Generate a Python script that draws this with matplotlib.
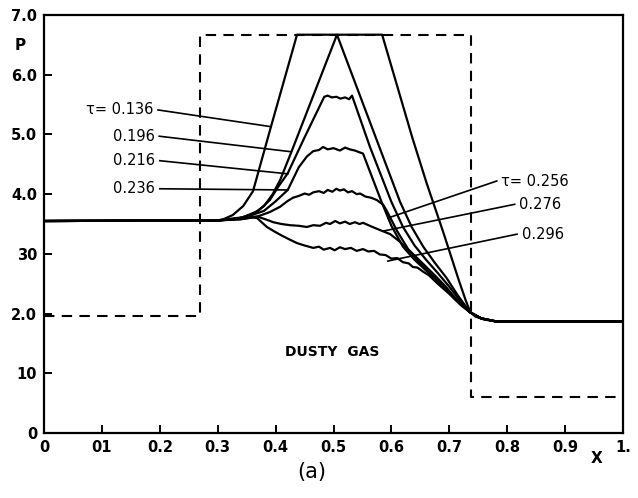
import matplotlib
matplotlib.use("Agg")
import matplotlib.pyplot as plt

# pressure profiles P(x) in the dusty gas shock tube at successive times tau
t136_x = [0.0, 0.30, 0.31, 0.326, 0.344, 0.361, 0.392, 0.437, 0.584, 0.636, 0.661, 0.69, 0.715, 0.728, 0.736,
          0.745, 0.76, 0.78, 1.0]
t136_y = [3.55, 3.56, 3.58, 3.65, 3.80, 4.05, 5.13, 6.67, 6.67, 4.95, 4.18, 3.35, 2.60, 2.23, 2.03,
          1.95, 1.90, 1.87, 1.87]

t196_x = [0.0, 0.30, 0.33, 0.36, 0.38, 0.395, 0.408, 0.427, 0.506, 0.615, 0.635, 0.655, 0.675, 0.695, 0.715,
          0.736, 0.755, 0.78, 1.0]
t196_y = [3.55, 3.56, 3.58, 3.66, 3.80, 4.00, 4.24, 4.70, 6.67, 3.87, 3.45, 3.12, 2.85, 2.60, 2.30,
          2.02, 1.92, 1.87, 1.87]

t216_x = [0.0, 0.30, 0.34, 0.37, 0.39, 0.405, 0.421, 0.45, 0.484, 0.49, 0.497, 0.505, 0.512, 0.52, 0.527, 0.532,
          0.563, 0.60, 0.62, 0.64, 0.66, 0.68, 0.70, 0.72, 0.736, 0.755, 0.78, 1.0]
t216_y = [3.55, 3.56, 3.60, 3.72, 3.90, 4.13, 4.35, 4.95, 5.63, 5.65, 5.62, 5.63, 5.60, 5.62, 5.59, 5.65,
          4.79, 3.87, 3.45, 3.14, 2.90, 2.68, 2.45, 2.20, 2.02, 1.92, 1.87, 1.87]

t236_x = [0.0, 0.30, 0.35, 0.38, 0.40, 0.421, 0.44, 0.454, 0.465, 0.475, 0.482, 0.49, 0.50, 0.511, 0.52, 0.528,
          0.537, 0.545, 0.551, 0.583, 0.60, 0.62, 0.64, 0.66, 0.68, 0.70, 0.72, 0.736, 0.755, 0.78, 1.0]
t236_y = [3.55, 3.56, 3.62, 3.72, 3.88, 4.07, 4.45, 4.63, 4.72, 4.74, 4.79, 4.75, 4.77, 4.73, 4.78, 4.75,
          4.73, 4.70, 4.68, 3.87, 3.47, 3.12, 2.90, 2.72, 2.55, 2.36, 2.17, 2.02, 1.92, 1.87, 1.87]

t256_x = [0.0, 0.30, 0.34, 0.37, 0.39, 0.408, 0.42, 0.43, 0.44, 0.45, 0.458, 0.465, 0.475, 0.483, 0.49, 0.498,
          0.505, 0.511, 0.518, 0.525, 0.532, 0.54, 0.546, 0.555, 0.565, 0.575, 0.586, 0.592, 0.61, 0.63, 0.65,
          0.67, 0.69, 0.71, 0.736, 0.755, 0.78, 1.0]
t256_y = [3.55, 3.56, 3.59, 3.63, 3.70, 3.79, 3.88, 3.94, 3.97, 4.01, 3.99, 4.03, 4.05, 4.02, 4.07, 4.04,
          4.09, 4.06, 4.08, 4.03, 4.05, 4.00, 4.01, 3.96, 3.94, 3.90, 3.82, 3.72, 3.38, 3.06, 2.84,
          2.64, 2.45, 2.24, 2.02, 1.92, 1.87, 1.87]

t276_x = [0.0, 0.30, 0.34, 0.36, 0.37, 0.385, 0.396, 0.41, 0.425, 0.44, 0.454, 0.465, 0.477, 0.487, 0.494, 0.503,
          0.511, 0.52, 0.528, 0.537, 0.545, 0.551, 0.565, 0.58, 0.598, 0.615, 0.635, 0.655, 0.675, 0.695, 0.715,
          0.736, 0.755, 0.78, 1.0]
t276_y = [3.55, 3.56, 3.58, 3.61, 3.62, 3.57, 3.53, 3.50, 3.48, 3.47, 3.45, 3.48, 3.47, 3.52, 3.50, 3.55,
          3.51, 3.54, 3.50, 3.53, 3.50, 3.52, 3.46, 3.40, 3.33, 3.20, 3.02, 2.83, 2.64, 2.44, 2.20,
          2.02, 1.92, 1.87, 1.87]

t296_x = [0.0, 0.30, 0.34, 0.36, 0.368, 0.377, 0.385, 0.397, 0.408, 0.42, 0.437, 0.45, 0.465, 0.475, 0.483, 0.494,
          0.502, 0.511, 0.52, 0.53, 0.54, 0.551, 0.56, 0.57, 0.58, 0.59, 0.60, 0.61, 0.62, 0.63, 0.637, 0.645,
          0.655, 0.665, 0.68, 0.70, 0.72, 0.736, 0.755, 0.78, 1.0]
t296_y = [3.55, 3.56, 3.58, 3.61, 3.60, 3.52, 3.45, 3.38, 3.32, 3.26, 3.18, 3.14, 3.10, 3.12, 3.07, 3.10,
          3.06, 3.11, 3.08, 3.10, 3.05, 3.08, 3.04, 3.05, 2.99, 2.98, 2.92, 2.93, 2.86, 2.84, 2.78, 2.77,
          2.70, 2.64, 2.50, 2.33, 2.14, 2.02, 1.92, 1.87, 1.87]

# initial pressure distribution (dashed)
init_x = [0.0, 0.27, 0.27, 0.7375, 0.7375, 1.0]
init_y = [1.96, 1.96, 6.67, 6.67, 0.60, 0.60]

curves = [(t136_x, t136_y), (t196_x, t196_y), (t216_x, t216_y), (t236_x, t236_y),
          (t256_x, t256_y), (t276_x, t276_y), (t296_x, t296_y)]

# leader lines: text end -> point on curve
left_labels = ["τ= 0.136", "0.196", "0.216", "0.236"]
left_lines = [((0.197, 5.41), (0.392, 5.13)),
              ((0.199, 4.97), (0.427, 4.71)),
              ((0.200, 4.56), (0.421, 4.34)),
              ((0.200, 4.09), (0.421, 4.07))]
right_labels = ["τ= 0.256", "0.276", "0.296"]
right_lines = [((0.594, 3.60), (0.782, 4.22)),
               ((0.585, 3.38), (0.813, 3.83)),
               ((0.594, 2.88), (0.817, 3.33))]

xticks = [0.0, 0.1, 0.2, 0.3, 0.4, 0.5, 0.6, 0.7, 0.8, 0.9, 1.0]
xtick_labels = ["0", "01", "0.2", "0.3", "0.4", "0.5", "0.6", "0.7", "0.8", "0.9", "1."]
yticks = [0, 1, 2, 3, 4, 5, 6, 7]
ytick_labels = ["0", "10", "2.0", "30", "4.0", "5.0", "6.0", "7.0"]

fig = plt.figure(figsize=(6.38, 4.98), dpi=100)
ax = fig.add_axes([44 / 638, 1 - 433 / 498, 579 / 638, 418 / 498])

ax.plot(init_x, init_y, color="black", lw=1.5, ls=(0, (5, 3.5)))
for cx, cy in curves:
    ax.plot(cx, cy, color="black", lw=1.6, solid_joinstyle="round")

for (p0, p1) in left_lines + right_lines:
    ax.plot([p0[0], p1[0]], [p0[1], p1[1]], color="black", lw=1.2)

lab_font = dict(family="DejaVu Sans", fontsize=10.5, color="black")
for txt, (p0, _) in zip(left_labels, left_lines):
    ax.text(p0[0] - 0.008, p0[1], txt, ha="right", va="center", **lab_font)
for txt, (_, p1) in zip(right_labels, right_lines):
    ax.text(p1[0] + 0.008, p1[1], txt, ha="left", va="center", **lab_font)

ax.text(0.497, 1.36, "DUSTY  GAS", ha="center", va="center",
        fontsize=10, fontweight="bold", family="DejaVu Sans")

ax.set_xlim(0, 1)
ax.set_ylim(0, 7)
ax.set_xticks(xticks)
ax.set_xticklabels(xtick_labels)
ax.set_yticks(yticks)
ax.set_yticklabels(ytick_labels)
ax.tick_params(direction="in", length=6, width=1.4, labelsize=10.5, pad=5)
for lbl in ax.get_xticklabels() + ax.get_yticklabels():
    lbl.set_fontweight("bold")
for sp in ax.spines.values():
    sp.set_linewidth(1.6)

fig.text(20 / 638, 1 - 45 / 498, "P", ha="center", va="center", fontsize=11, fontweight="bold")
fig.text(597 / 638, 1 - 458 / 498, "X", ha="center", va="center", fontsize=11, fontweight="bold")
fig.text(312 / 638, 1 - 472 / 498, "(a)", ha="center", va="center", fontsize=15)

fig.savefig("out.png", dpi=100)
